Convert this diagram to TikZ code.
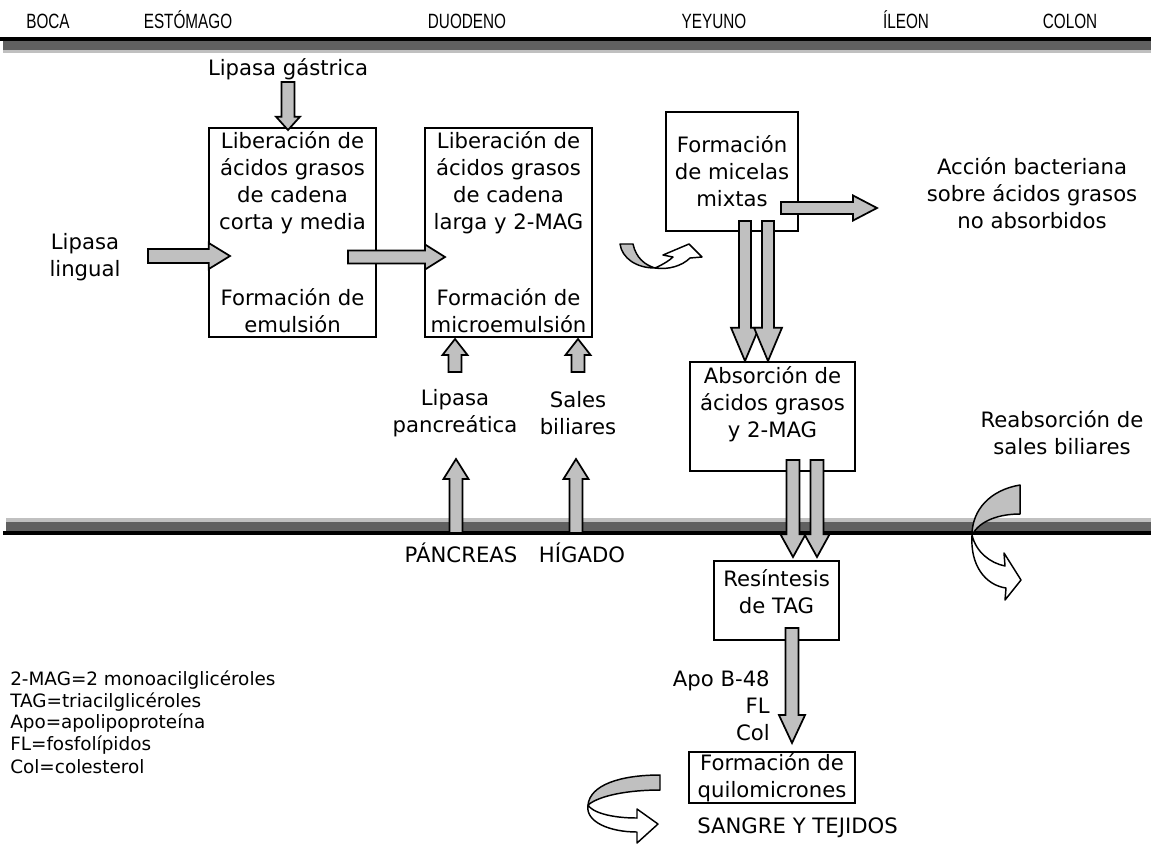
\documentclass[tikz,border=0pt]{standalone}
\usepackage{fontspec}
\setmainfont{DejaVu Sans}
\newfontfamily\narrowfont[FakeStretch=0.74]{Liberation Sans}
\usetikzlibrary{calc}

\definecolor{arrowgray}{HTML}{C0C0C0}
\definecolor{banddark}{HTML}{606060}
\definecolor{bandlight}{HTML}{C0C0C0}

\newcommand{\bodyfont}{\fontsize{15.9}{20.2}\selectfont}
\newcommand{\headfont}{\narrowfont\fontsize{15.5}{18}\selectfont}
\newcommand{\notefont}{\fontsize{13.8}{16}\selectfont}

\tikzset{
  ba/headlen/.store in=\baheadlen,
  ba/shaft/.store in=\bashaft,
  ba/head/.store in=\bahead,
  ba/headlen=15pt, ba/shaft=4.9pt, ba/head=9.4pt,
  blockarr/.style={draw=black, line width=1.3pt, fill=arrowgray, line join=miter},
  curvepart/.style={draw=black, line width=1.1pt, line join=round},
  stage/.style={draw, line width=1.4pt, inner sep=0pt, align=center, font=\bodyfont},
  lbl/.style={inner sep=0pt, align=center, font=\bodyfont},
  region/.style={inner sep=0pt, anchor=base, font=\headfont},
  note/.style={inner sep=0pt, anchor=west, font=\notefont},
}

% block arrow from tail #2 to tip #3
\newcommand{\blockarrow}[3][]{%
  \begin{scope}
    \tikzset{#1}
    \coordinate (ba-base) at ($(#3)!\baheadlen!(#2)$);
    \draw[blockarr] ($(#2)!\bashaft!90:(#3)$) -- ($(ba-base)!\bashaft!90:(#3)$)
      -- ($(ba-base)!\bahead!90:(#3)$) -- (#3)
      -- ($(ba-base)!\bahead!-90:(#3)$) -- ($(ba-base)!\bashaft!-90:(#3)$)
      -- ($(#2)!\bashaft!-90:(#3)$) -- cycle;
  \end{scope}}

\begin{document}
\begin{tikzpicture}[x=0.75pt, y=-0.75pt]
  \def\px{0.75pt}
  \useasboundingbox (0,0) rectangle (1151,843);

  % regions of the tract
  \foreach \name/\xpos [count=\k] in {BOCA/48, ESTÓMAGO/188, DUODENO/467, YEYUNO/714, ÍLEON/906, COLON/1070}
    \node[region] (region\k) at (\xpos,28) {\name};

  % wall bands
  \fill[black] (0,37) rectangle (1151,41);
  \fill[banddark] (3,41) rectangle (1151,50);
  \fill[bandlight] (3,50) rectangle (1151,53);
  \fill[bandlight] (6,518) rectangle (1151,522);
  \fill[banddark] (6,522) rectangle (1151,531);
  \fill[black] (3,531) rectangle (1151,535);

  % stages
  \node[stage, minimum width=167*\px, minimum height=209*\px] (shortfa) at (292.5,232.5)
    {Liberación de\\ácidos grasos\\de cadena\\corta y media\\[37pt]Formación de\\emulsión};
  \node[stage, minimum width=167*\px, minimum height=209*\px] (longfa) at (508.5,232.5)
    {Liberación de\\ácidos grasos\\de cadena\\larga y 2-MAG\\[37pt]Formación de\\microemulsión};
  \node[stage, minimum width=132*\px, minimum height=119*\px] (micelle) at (732,171.5)
    {Formación\\de micelas\\mixtas};
  \node[stage, minimum width=165*\px, minimum height=109*\px] (absorb) at (772.5,416.5) {};
  \node[lbl] (absorbtxt) at (772.5,404) {Absorción de\\ácidos grasos\\y 2-MAG};
  \node[stage, minimum width=125*\px, minimum height=79*\px] (resynth) at (776.5,600.5) {};
  \node[lbl] (resynthtxt) at (776.5,591.5) {Resíntesis\\de TAG};
  \node[stage, minimum width=166*\px, minimum height=51*\px] (chylo) at (772,777.5)
    {Formación de\\quilomicrones};

  % labels
  \node[lbl] (gastric) at (288,69) {Lipasa gástrica};
  \node[lbl] (lingual) at (85,257) {Lipasa\\lingual};
  \node[lbl] (pancreatic) at (455,413) {Lipasa\\pancreática};
  \node[lbl] (bilesalts) at (578,413) {Sales\\biliares};
  \node[lbl] (bacteria) at (1032,193) {Acción bacteriana\\sobre ácidos grasos\\no absorbidos};
  \node[lbl] (reabsorb) at (1062,433) {Reabsorción de\\sales biliares};
  \node[lbl] (pancreas) at (461,553) {PÁNCREAS};
  \node[lbl] (liver) at (582,553) {HÍGADO};
  \node[lbl, anchor=east, align=right] (apo) at (770,706) {Apo B-48\\FL\\Col};
  \node[lbl, anchor=west] (blood) at (697,828) {SANGRE Y TEJIDOS};

  % abbreviations
  \foreach \txt/\ypos [count=\k] in {2-MAG=2 monoacilglicéroles/680, TAG=triacilglicéroles/702,
      Apo=apolipoproteína/723, FL=fosfolípidos/745, Col=colesterol/767}
    \node[note] (abbr\k) at (10,\ypos) {\txt};

  % arrow ends
  \coordinate (gas-a) at (288,82);   \coordinate (gas-b) at (288,130);
  \coordinate (lin-a) at (148,256);  \coordinate (lin-b) at (230,256);
  \coordinate (mid-a) at (348,257);  \coordinate (mid-b) at (445,257);
  \coordinate (pan-a) at (455,372);  \coordinate (pan-b) at (455,339);
  \coordinate (bil-a) at (578,372);  \coordinate (bil-b) at (578,339);
  \coordinate (pwall-a) at (456,533); \coordinate (pwall-b) at (456,459);
  \coordinate (hwall-a) at (576,533); \coordinate (hwall-b) at (576,459);
  \coordinate (mic1-a) at (745,221); \coordinate (mic1-b) at (745,361);
  \coordinate (mic2-a) at (768,221); \coordinate (mic2-b) at (768,361);
  \coordinate (col-a) at (781,208);  \coordinate (col-b) at (877,208);
  \coordinate (abs1-a) at (793,460); \coordinate (abs1-b) at (793,557);
  \coordinate (abs2-a) at (817,460); \coordinate (abs2-b) at (817,557);
  \coordinate (tag-a) at (792,628);  \coordinate (tag-b) at (792,743);

  % block arrows
  \blockarrow[ba/headlen=10pt, ba/head=9pt]{gas-a}{gas-b}
  \blockarrow[ba/headlen=16pt, ba/shaft=5.3pt, ba/head=9.8pt]{lin-a}{lin-b}
  \blockarrow{mid-a}{mid-b}
  \blockarrow[ba/headlen=12pt]{pan-a}{pan-b}
  \blockarrow[ba/headlen=12pt]{bil-a}{bil-b}
  \blockarrow{pwall-a}{pwall-b}
  \blockarrow{hwall-a}{hwall-b}
  \blockarrow[ba/headlen=25pt, ba/shaft=4.5pt, ba/head=10.5pt]{mic1-a}{mic1-b}
  \blockarrow[ba/headlen=25pt, ba/shaft=4.5pt, ba/head=10.5pt]{mic2-a}{mic2-b}
  \blockarrow[ba/headlen=18pt, ba/shaft=4.5pt]{col-a}{col-b}
  \blockarrow[ba/headlen=17pt]{abs1-a}{abs1-b}
  \blockarrow[ba/headlen=17pt]{abs2-a}{abs2-b}
  \blockarrow[ba/headlen=21pt, ba/head=9.8pt]{tag-a}{tag-b}

  % curved arrows
  \draw[curvepart, fill=arrowgray] (620,244) -- (633,244) .. controls (636,258) and (645,265) .. (655,268)
    .. controls (636,268) and (622,258) .. (620,244) -- cycle;
  \draw[curvepart, fill=white] (655,268) .. controls (664,264) and (670,260) .. (673,257) -- (663,255)
    -- (689,244) -- (702,257) -- (690,258) .. controls (682,266) and (668,270) .. (655,268) -- cycle;

  \draw[curvepart, fill=arrowgray] (1020,485) .. controls (990,490) and (972,510) .. (972,535)
    .. controls (980,520) and (1000,514) .. (1020,514) -- cycle;
  \draw[curvepart, fill=white] (972,535) .. controls (970,565) and (985,585) .. (1006,588) -- (1005,600)
    -- (1021,580) -- (1004,553) -- (1005,566) .. controls (990,563) and (976,552) .. (972,535) -- cycle;

  \draw[curvepart, fill=arrowgray] (660,775) .. controls (620,775) and (590,785) .. (588,805)
    .. controls (600,795) and (630,790) .. (660,790) -- cycle;
  \draw[curvepart, fill=white] (588,805) .. controls (585,822) and (610,832) .. (637,832) -- (637,843)
    -- (658,824) -- (637,809) -- (637,818) .. controls (610,818) and (592,812) .. (588,805) -- cycle;
\end{tikzpicture}
\end{document}
